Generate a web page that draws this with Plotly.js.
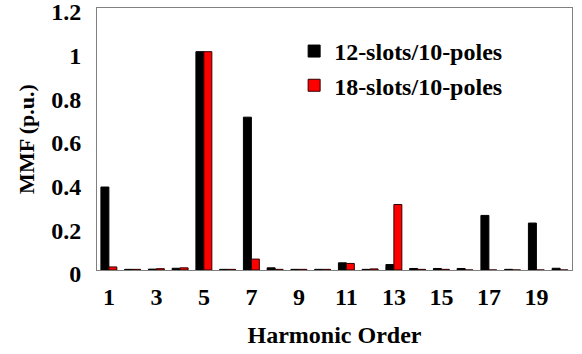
<!DOCTYPE html>
<html>
<head>
<meta charset="utf-8">
<script src="https://cdn.plot.ly/plotly-3.0.1.min.js"></script>
<style>html,body{margin:0;padding:0;background:#fff;}#chart{width:582px;height:354px;}</style>
</head>
<body>
<div id="chart"></div>
<script>
const harmonics = [1,2,3,4,5,6,7,8,9,10,11,12,13,14,15,16,17,18,19,20];
const slots12 = [0.38,0.003,0.004,0.008,1.0,0.003,0.70,0.01,0.003,0.003,0.033,0.003,0.025,0.007,0.007,0.007,0.25,0.003,0.215,0.008];
const slots18 = [0.014,0.003,0.006,0.01,1.0,0.003,0.05,0.003,0.003,0.003,0.03,0.005,0.30,0.003,0.003,0,0,0,0,0];
const tickVals = [1,3,5,7,9,11,13,15,17,19];
const tickText = ['1','3','5','7','9','11','13','15','17','19'];
const yTicks = [0,0.2,0.4,0.6,0.8,1,1.2];
const yTickText = ['0','0.2','0.4','0.6','0.8','1','1.2'];

const fontFam = '"Liberation Serif", "Times New Roman", serif';
const bold = (s) => ({family:fontFam, size:s, color:'#000', weight:'bold'});
const traces = [
  {type:'bar', x:harmonics, y:slots12, name:'12-slots/10-poles', legendgroup:'a',
   marker:{color:'#000000', line:{color:'#000000', width:1}}},
  {type:'bar', x:harmonics, y:slots18, name:'18-slots/10-poles', legendgroup:'b',
   marker:{color:'#ff0000', line:{color:'#300000', width:1}}}
];
const layout = {
  width:582, height:354,
  margin:{l:97, r:10, t:8, b:84},
  paper_bgcolor:'#fff', plot_bgcolor:'#fff',
  font:bold(24),
  barmode:'group', bargap:0.33, bargroupgap:0,
  showlegend:true,
  legend:{x:0.415, y:0.92, xanchor:'left', yanchor:'top', traceorder:'grouped', tracegroupgap:0,
          font:bold(24), bgcolor:'rgba(0,0,0,0)'},
  xaxis:{range:[0.5,20.5], tickmode:'array', tickvals:tickVals, ticktext:tickText,
         showgrid:false, zeroline:false, showline:true, linecolor:'#808080', linewidth:1, mirror:true,
         ticks:'', ticklen:0, ticklabelstandoff:5,
         tickfont:bold(24),
         title:{text:'Harmonic Order', standoff:17, font:bold(24)}},
  yaxis:{range:[0,1.2], tickmode:'array', tickvals:yTicks, ticktext:yTickText,
         showgrid:false, zeroline:false, showline:true, linecolor:'#808080', linewidth:1, mirror:true,
         ticks:'', ticklen:0, ticklabelstandoff:10, ticklabelshift:4, ticklabeloverflow:'allow',
         tickfont:bold(24),
         title:{text:'MMF (p.u.)', standoff:10, font:bold(22)}}
};
Plotly.newPlot('chart', traces, layout, {displayModeBar:false, staticPlot:true});
</script>
</body>
</html>
